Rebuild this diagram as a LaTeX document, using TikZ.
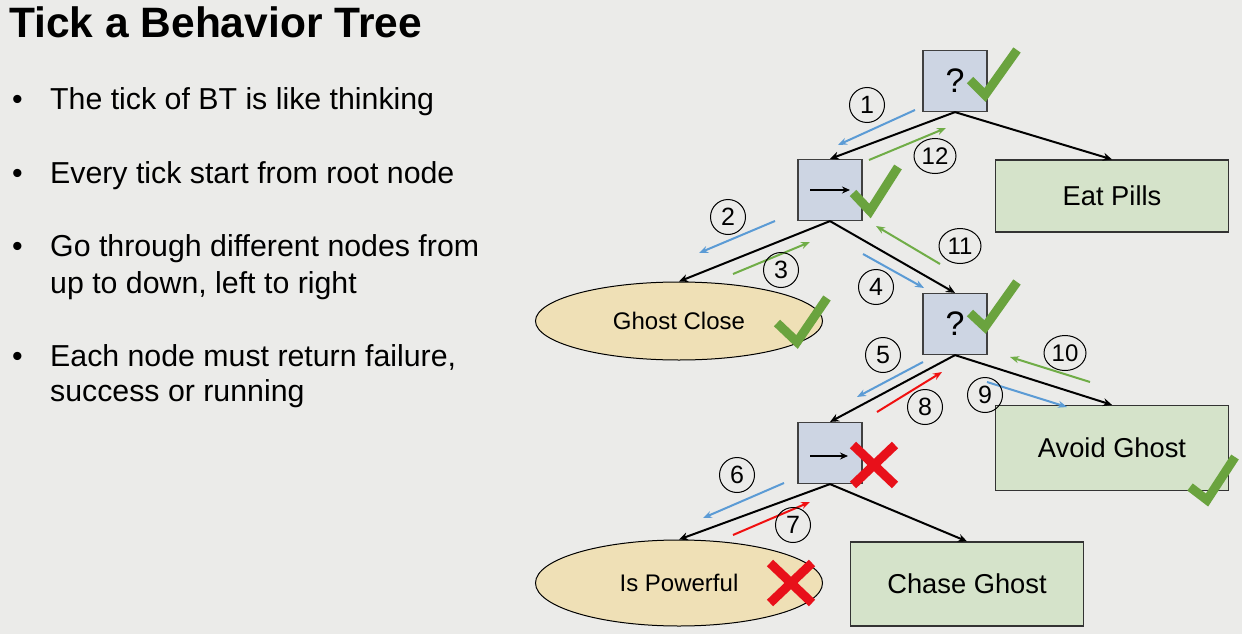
\documentclass[tikz,border=0pt]{standalone}
\usepackage{fontspec}
\setmainfont{Liberation Sans}
\usetikzlibrary{shapes.geometric,arrows.meta}
\definecolor{bg}{HTML}{EBEBE9}
\definecolor{boxblue}{HTML}{CDD5E3}
\definecolor{boxgreen}{HTML}{D5E3CA}
\definecolor{tan}{HTML}{EFE0B6}
\definecolor{tickblue}{HTML}{5B9BD5}
\definecolor{tickgreen}{HTML}{70AD47}
\definecolor{tickred}{HTML}{F01010}
\definecolor{okgreen}{HTML}{6AA33E}
\definecolor{badred}{HTML}{E8101A}
\tikzset{
  ctrl/.style={draw=black!75,line width=1.2pt,fill=boxblue,minimum width=64pt,minimum height=61pt,inner sep=0pt,font=\fontsize{34}{38}\selectfont},
  action/.style={draw=black!80,line width=1.2pt,fill=boxgreen,minimum width=233pt,minimum height=72pt,inner sep=0pt,font=\fontsize{27.3}{31}\selectfont},
  cond/.style={ellipse,draw=black,line width=1pt,fill=tan,minimum width=287pt,minimum height=78pt,inner sep=0pt,font=\fontsize{24}{28}\selectfont},
  edge/.style={line width=2pt,-{Stealth[length=9pt,width=8pt]}},
  flow/.style={line width=2pt,-{Stealth[length=9pt,width=7pt]}},
  down/.style={flow,tickblue},
  upok/.style={flow,tickgreen},
  upbad/.style={flow,tickred},
  num/.style={ellipse,draw=black,line width=1pt,minimum width=35pt,minimum height=35pt,inner sep=0pt,font=\fontsize{25}{27}\selectfont},
  numwide/.style={num,minimum width=42pt,font=\fontsize{24}{27}\selectfont},
  okmark/.style={okgreen,line width=9pt,line cap=butt,line join=miter},
  badmark/.style={badred,line width=9pt,line cap=butt},
  bodytext/.style={anchor=base west,inner sep=0pt,font=\fontsize{30.3}{35}\selectfont},
}
\begin{document}
\begin{tikzpicture}[x=1pt,y=-1pt]
\fill[bg] (0,0) rectangle (1242,634);
\useasboundingbox (0,0) rectangle (1242,634);

% heading and bullet list
\node[anchor=base west,inner sep=0pt,text height=31pt,font=\fontsize{42.5}{47}\selectfont\bfseries] (title) at (9,38) {Tick a Behavior Tree};
\foreach \y/\t [count=\i] in {110/{The tick of BT is like thinking},
                               183/{Every tick start from root node},
                               256/{Go through different nodes from},
                               366/{Each node must return failure,}}{
  \node[bodytext] (b\i) at (12,\y) {\textbullet};
  \node[bodytext] (l\i) at (50,\y) {\t};
}
\node[bodytext] (l3b) at (50,293) {up to down, left to right};
\node[bodytext] (l4b) at (50,401) {success or running};

% tree nodes
\node[ctrl] (root) at (955,81) {?};
\node[ctrl] (seqA) at (830,190) {};
\node[action] (eat) at (1112,196) {Eat Pills};
\node[cond] (close) at (679,321) {Ghost Close};
\node[ctrl] (selB) at (955,324) {?};
\node[action,minimum height=85pt] (avoid) at (1112,448) {Avoid Ghost};
\node[ctrl] (seqB) at (830,453) {};
\node[cond,minimum height=86pt] (power) at (679,583) {Is Powerful};
\node[action,minimum height=84pt] (chase) at (967,584) {Chase Ghost};

% sequence symbols
\draw[line width=1.6pt,-{Stealth[length=8pt,width=7pt]}] ([xshift=-20pt]seqA.center) -- ([xshift=20pt]seqA.center);
\draw[line width=1.6pt,-{Stealth[length=8pt,width=7pt]}] ([xshift=-20pt,yshift=-3pt]seqB.center) -- ([xshift=18pt,yshift=-3pt]seqB.center);

% tree edges
\draw[edge] (root.south) -- (seqA.north);
\draw[edge] (root.south) -- (eat.north);
\draw[edge] (seqA.south) -- (close.north);
\draw[edge] (seqA.south) -- (selB.north);
\draw[edge] (selB.south) -- (seqB.north);
\draw[edge] (selB.south) -- (avoid.north);
\draw[edge] (seqB.south) -- (power.north);
\draw[edge] (seqB.south) -- (chase.north);

% tick order: calls going down, results coming back up
\draw[down]  (915,110) -- (838,145);
\draw[upok]  (869,160) -- (946,128);
\draw[down]  (775,221) -- (699,253);
\draw[upok]  (733,274) -- (810,242);
\draw[down]  (863,254) -- (924,288);
\draw[down]  (923,362) -- (857,397);
\draw[down]  (784,483) -- (703,518);
\draw[upbad] (733,535) -- (810,502);
\draw[upbad] (877,412) -- (942,372);
\draw[down]  (987,382) -- (1067,407);
\draw[upok]  (1090,382) -- (1010,357);
\draw[upok]  (940,264) -- (876,226);

\node[num] (n1)  at (867,105) {1};
\node[num] (n2)  at (728,217) {2};
\node[num] (n3)  at (781,270) {3};
\node[num] (n4)  at (876,287) {4};
\node[num] (n5)  at (883,355) {5};
\node[num] (n6)  at (737,475) {6};
\node[num] (n7)  at (793,525) {7};
\node[num] (n8)  at (925,407) {8};
\node[num] (n9)  at (985,395) {9};
\node[numwide] (n10) at (1065,353) {10};
\node[numwide] (n11) at (960,246) {11};
\node[numwide] (n12) at (935,156) {12};

% results
\draw[okmark] (970,80) -- (985,95) -- (1017,50);
\draw[okmark] (853,193) -- (870,211) -- (898,167);
\draw[okmark] (777,323) -- (797,342) -- (827,298);
\draw[okmark] (970,313) -- (985,327) -- (1017,282);
\draw[okmark] (1190,487) -- (1207,500) -- (1235,457);
\draw[badmark] (853,445) -- (895,485);
\draw[badmark] (895,445) -- (853,485);
\draw[badmark] (770,563) -- (812,603);
\draw[badmark] (812,563) -- (770,603);
\end{tikzpicture}
\end{document}
